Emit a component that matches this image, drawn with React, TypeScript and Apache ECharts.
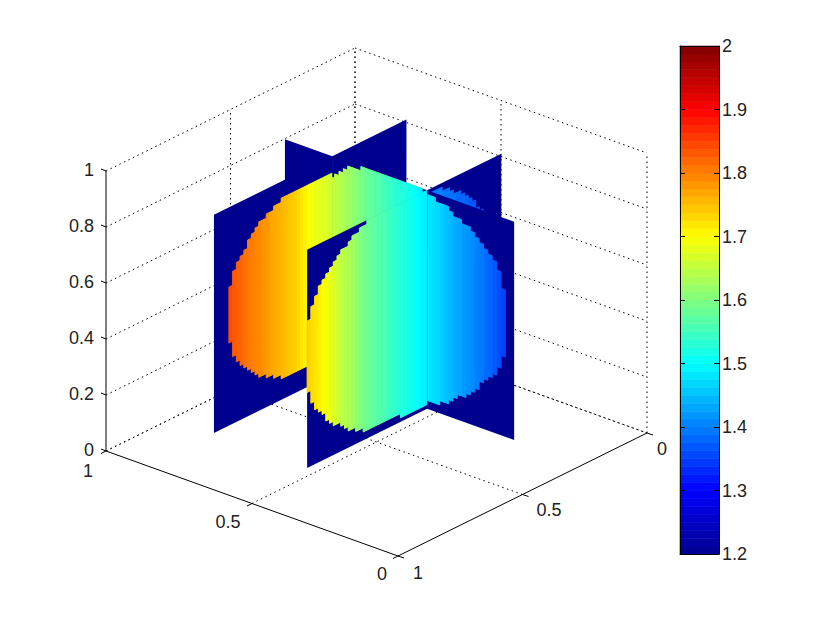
import React, { useEffect, useRef } from "react";
import * as echarts from "echarts";

// ---------- data ----------
const Z_TICKS = ["0", "0.2", "0.4", "0.6", "0.8", "1"];
const FLOOR_TICKS = ["0", "0.5", "1"];
const COLORBAR_MIN = 1.2;
const COLORBAR_MAX = 2;
const COLORBAR_LEVELS = 64;
const BACKGROUND_VALUE = 1.2;

// slice positions and extent of the sampled cube
const SLICE_A_FAR = 0.858;
const SLICE_A_NEAR = 0.533;
const SLICE_B = 0.258;
const DOMAIN_A = [0.235, 1.02];
const DOMAIN_B = [-0.04, 0.74];
const DOMAIN_Z = [0, 0.78];
const CELL = 0.015;

// far A slice, columns from B = 0.733 downward: 0 = outside the ball
const A_FAR_TOP = [0, 0, 0, 0, 0.495, 0.545, 0.57, 0.585, 0.6, 0.63, 0.645, 0.66, 0.675, 0.675, 0.69, 0.69, 0.705, 0.705, 0.72, 0.72, 0.72, 0.72, 0.72, 0.72, 0.72, 0.72, 0.72, 0.72, 0.72, 0.72, 0.72, 0.72];
const A_FAR_LOW = [0, 0, 0, 0, 0.295, 0.24, 0.215, 0.195, 0.18, 0.165, 0.15, 0.135, 0.12, 0.12, 0.105, 0.105, 0.09, 0.09, 0.075, 0.075, 0.075, 0.075, 0.075, 0.075, 0.075, 0.075, 0.075, 0.075, 0.075, 0.075, 0.075, 0.075];
const A_FAR_VAL = [0, 0, 0, 0, 1.84, 1.83, 1.825, 1.82, 1.81, 1.805, 1.8, 1.795, 1.79, 1.785, 1.78, 1.77, 1.765, 1.76, 1.755, 1.75, 1.745, 1.74, 1.73, 1.72, 1.71, 1.7, 1.69, 1.685, 1.68, 1.675, 1.67, 1.66];

// near A slice, left of the B slice, columns from B = 0.74 downward
const A_NEAR_TOP = [0.525, 0.57, 0.6, 0.63, 0.645, 0.66, 0.675, 0.69, 0.705, 0.72, 0.72, 0.735, 0.75, 0.75, 0.765, 0.765, 0.78, 0.78, 0.78, 0.78, 0.78, 0.78, 0.78, 0.78, 0.78, 0.78, 0.78, 0.78, 0.78, 0.78, 0.78, 0.78];
const A_NEAR_LOW = [0.27, 0.225, 0.195, 0.18, 0.165, 0.135, 0.12, 0.105, 0.105, 0.09, 0.075, 0.06, 0.06, 0.045, 0.045, 0.03, 0.03, 0.03, 0.03, 0.03, 0.03, 0.03, 0.03, 0.03, 0.03, 0.015, 0.015, 0.015, 0.015, 0.015, 0.015, 0.015];
const A_NEAR_VAL = [1.735, 1.725, 1.72, 1.71, 1.7, 1.69, 1.68, 1.67, 1.66, 1.65, 1.64, 1.635, 1.625, 1.61, 1.6, 1.59, 1.585, 1.578, 1.57, 1.565, 1.56, 1.55, 1.545, 1.54, 1.533, 1.527, 1.52, 1.515, 1.51, 1.5, 1.495, 1.49];

// near A slice, behind the B slice, columns from B = 0.258 downward
const A_BACK_TOP = [0.765, 0.765, 0.765, 0.765, 0.75, 0.75, 0.735, 0.72, 0.72, 0.705, 0.69, 0.675, 0.66, 0.63, 0.615, 0.585, 0.555, 0.51, 0.45];
const A_BACK_LOW = [0.03, 0.03, 0.03, 0.03, 0.045, 0.045, 0.06, 0.06, 0.075, 0.09, 0.105, 0.12, 0.135, 0.15, 0.18, 0.21, 0.24, 0.27, 0.3];
const A_BACK_VAL = [1.41, 1.41, 1.4, 1.4, 1.4, 1.39, 1.39, 1.39, 1.38, 1.38, 1.38, 1.37, 1.37, 1.36, 1.36, 1.35, 1.35, 1.34, 1.34];

// B slice, columns from A = 0.235 upward
const B_TOP = [0, 0, 0.525, 0.585, 0.615, 0.63, 0.645, 0.66, 0.675, 0.69, 0.705, 0.705, 0.72, 0.72, 0.735, 0.75, 0.75, 0.75, 0.765, 0.765, 0.765, 0.78, 0.78, 0.78, 0.78, 0.78, 0.78, 0.78, 0.78, 0.78, 0.78, 0.78, 0.78, 0.78, 0.78, 0.765, 0.765, 0.765, 0.75, 0.735, 0.72, 0.705];
const B_LOW = [0, 0, 0.285, 0.24, 0.21, 0.195, 0.18, 0.165, 0.135, 0.12, 0.105, 0.09, 0.09, 0.075, 0.06, 0.045, 0.045, 0.03, 0.03, 0.03, 0.03, 0.03, 0.015, 0.015, 0.015, 0.015, 0.015, 0.015, 0.015, 0.015, 0.015, 0.015, 0.015, 0.015, 0.015, 0.03, 0.03, 0.03, 0.03, 0.03, 0.03, 0.03];
const B_VAL = [0, 0, 1.35, 1.36, 1.37, 1.38, 1.385, 1.395, 1.4, 1.41, 1.415, 1.42, 1.43, 1.435, 1.445, 1.45, 1.46, 1.47, 1.475, 1.48, 1.49, 1.495, 1.5, 1.51, 1.515, 1.525, 1.53, 1.535, 1.545, 1.55, 1.56, 1.565, 1.575, 1.58, 1.59, 1.6, 1.61, 1.62, 1.63, 1.64, 1.645, 1.655];

// jet colour map stops: position, r, g, b
const JET_STOPS = [
  [0, 0, 0, 143],
  [0.125, 0, 0, 255],
  [0.375, 0, 255, 255],
  [0.625, 255, 255, 0],
  [0.875, 255, 0, 0],
  [1, 128, 0, 0],
];

// ---------- helpers ----------
function jet(v: number): string {
  const t = Math.min(1, Math.max(0, (v - COLORBAR_MIN) / (COLORBAR_MAX - COLORBAR_MIN)));
  for (let i = 1; i < JET_STOPS.length; i++) {
    const a = JET_STOPS[i - 1];
    const b = JET_STOPS[i];
    if (t <= b[0]) {
      const f = (t - a[0]) / (b[0] - a[0]);
      const c = [1, 2, 3].map((k) => Math.round(a[k] + (b[k] - a[k]) * f));
      return `rgb(${c[0]},${c[1]},${c[2]})`;
    }
  }
  return "rgb(128,0,0)";
}

// oblique view of the box, in the units of the hidden page axes
function project(A: number, B: number, z: number): number[] {
  return [647 - 292 * A - 249 * B, 433 - 105 * A + 123 * B - 280 * z];
}

type Slice = { axis: "A" | "B"; at: number; start: number; step: number; top: number[]; low: number[]; val: number[] };
const sliceFar: Slice = { axis: "A", at: SLICE_A_FAR, start: 0.733, step: -CELL, top: A_FAR_TOP, low: A_FAR_LOW, val: A_FAR_VAL };
const sliceNear: Slice = { axis: "A", at: SLICE_A_NEAR, start: 0.74, step: -CELL, top: A_NEAR_TOP, low: A_NEAR_LOW, val: A_NEAR_VAL };
const sliceBack: Slice = { axis: "A", at: SLICE_A_NEAR, start: SLICE_B, step: -CELL, top: A_BACK_TOP, low: A_BACK_LOW, val: A_BACK_VAL };
const sliceB: Slice = { axis: "B", at: SLICE_B, start: DOMAIN_A[0], step: CELL, top: B_TOP, low: B_LOW, val: B_VAL };

function slicePoint(s: Slice, u: number, z: number) {
  return s.axis === "A" ? project(s.at, u, z) : project(u, s.at, z);
}

type Item =
  | { kind: "poly"; pts: number[][]; fill: string; seal: boolean }
  | { kind: "line"; a: number[]; b: number[]; dotted: boolean }
  | { kind: "text"; at: number[]; text: string; align: string };

const items: Item[] = [];

function cell(s: Slice, u0: number, u1: number, z0: number, z1: number, v: number, seal: boolean) {
  items.push({
    kind: "poly",
    fill: jet(v),
    seal,
    pts: [slicePoint(s, u0, z0), slicePoint(s, u1, z0), slicePoint(s, u1, z1), slicePoint(s, u0, z1)],
  });
}

function segment(s: Slice, lo: number, hi: number) {
  cell(s, lo, hi, DOMAIN_Z[0], DOMAIN_Z[1], BACKGROUND_VALUE, false);
  s.top.forEach((top, i) => {
    const a = s.start + s.step * i;
    const b = a + s.step;
    const u0 = Math.max(lo, Math.min(a, b));
    const u1 = Math.min(hi, Math.max(a, b));
    if (u1 > u0 && top > s.low[i]) cell(s, u0, u1, s.low[i], top, s.val[i], true);
  });
}

function addLine(a: number[], b: number[], dotted: boolean) {
  items.push({ kind: "line", a, b, dotted });
}

// dotted back walls and floor
Z_TICKS.forEach((t) => {
  const z = Number(t);
  addLine(project(1, 1, z), project(1, 0, z), true);
  addLine(project(1, 0, z), project(0, 0, z), true);
});
FLOOR_TICKS.forEach((t) => {
  const v = Number(t);
  if (v > 0) addLine(project(v, 1, 0), project(v, 0, 0), true);
  if (v < 1) addLine(project(0, v, 0), project(1, v, 0), true);
  if (v > 0) addLine(project(v, 0, 0), project(v, 0, 1), true);
  if (v < 1) addLine(project(1, v, 0), project(1, v, 1), true);
});
addLine(project(0, 0, 0), project(0, 0, 1), true);

// solid axes and tick marks
addLine(project(1, 1, 0), project(1, 1, 1), false);
addLine(project(1, 1, 0), project(0, 1, 0), false);
addLine(project(0, 1, 0), project(0, 0, 0), false);
Z_TICKS.forEach((t) => {
  const p = project(1, 1, Number(t));
  addLine(p, [p[0] - 5, p[1] - 2], false);
  items.push({ kind: "text", at: [94, p[1] - 1], text: t, align: "right" });
});
FLOOR_TICKS.forEach((t) => {
  const v = Number(t);
  const pa = project(v, 1, 0);
  addLine(pa, [pa[0] - 5, pa[1] + 2.5], false);
  const pb = project(0, v, 0);
  addLine(pb, [pb[0] + 6, pb[1] + 2], false);
});
[
  [1, -18, 20],
  [0.5, -24, 18.5],
  [0, -16, 18],
].forEach(([v, dx, dy]) => {
  const p = project(v, 1, 0);
  items.push({ kind: "text", at: [p[0] + dx, p[1] + dy], text: String(v), align: "center" });
});
[
  [1, 20, 17],
  [0.5, 26.5, 15.5],
  [0, 15, 16],
].forEach(([v, dx, dy]) => {
  const p = project(0, v, 0);
  items.push({ kind: "text", at: [p[0] + dx, p[1] + dy], text: String(v), align: "center" });
});

// slices, from back to front
segment(sliceB, SLICE_A_FAR, DOMAIN_A[1]);
segment(sliceFar, DOMAIN_B[0], SLICE_B);
segment(sliceBack, DOMAIN_B[0], SLICE_B);
segment(sliceFar, SLICE_B, 0.733);
segment(sliceB, SLICE_A_NEAR, SLICE_A_FAR);
segment(sliceB, DOMAIN_A[0], SLICE_A_NEAR);
segment(sliceNear, SLICE_B, DOMAIN_B[1]);

const bandData = Array.from({ length: COLORBAR_LEVELS }, (_, i) => {
  const w = (COLORBAR_MAX - COLORBAR_MIN) / COLORBAR_LEVELS;
  return [COLORBAR_MIN + i * w, COLORBAR_MIN + (i + 1) * w];
});

const FONT = '18px "Liberation Sans", Arial, sans-serif';

export default function App() {
  const ref = useRef<HTMLDivElement>(null);
  useEffect(() => {
    const chart = echarts.init(ref.current!, null, { renderer: "svg" });
    chart.setOption({
      animation: false,
      backgroundColor: "#ffffff",
      grid: [
        { left: 0, top: 0, width: 830, height: 623 },
        { left: 680, top: 46, width: 39, height: 508 },
      ],
      xAxis: [
        { type: "value", gridIndex: 0, min: 0, max: 830, show: false },
        { type: "value", gridIndex: 1, min: 0, max: 1, position: "bottom", z: 5, axisLine: { show: true, onZero: false, lineStyle: { color: "#000" } }, axisTick: { show: false }, axisLabel: { show: false }, splitLine: { show: false } },
        { type: "value", gridIndex: 1, min: 0, max: 1, position: "top", z: 5, axisLine: { show: true, onZero: false, lineStyle: { color: "#000" } }, axisTick: { show: false }, axisLabel: { show: false }, splitLine: { show: false } },
      ],
      yAxis: [
        { type: "value", gridIndex: 0, min: 0, max: 623, inverse: true, show: false },
        {
          type: "value", gridIndex: 1, min: COLORBAR_MIN, max: COLORBAR_MAX, interval: 0.1, position: "right", z: 5,
          axisLine: { show: true, onZero: false, lineStyle: { color: "#000" } },
          axisTick: { show: true, inside: true, length: 5, lineStyle: { color: "#000" } },
          axisLabel: { show: true, margin: 3, padding: [4, 0, 0, 0], color: "#222", fontFamily: '"Liberation Sans", Arial, sans-serif', fontSize: 18, formatter: (v: number) => String(Number(v.toFixed(1))) },
          splitLine: { show: false },
        },
        {
          type: "value", gridIndex: 1, min: COLORBAR_MIN, max: COLORBAR_MAX, interval: 0.1, position: "left", z: 5,
          axisLine: { show: true, onZero: false, lineStyle: { color: "#000" } },
          axisTick: { show: true, inside: true, length: 5, lineStyle: { color: "#000" } },
          axisLabel: { show: false },
          splitLine: { show: false },
        },
      ],
      series: [
        {
          type: "custom",
          xAxisIndex: 0,
          yAxisIndex: 0,
          silent: true,
          data: items.map((_, i) => [i]),
          encode: { x: -1, y: -1 },
          renderItem: (params: any, api: any) => {
            const it = items[params.dataIndex];
            if (it.kind === "poly") {
              return {
                type: "polygon",
                shape: { points: it.pts.map((p) => api.coord(p)) },
                style: it.seal ? { fill: it.fill, stroke: it.fill, lineWidth: 1 } : { fill: it.fill },
              };
            }
            if (it.kind === "line") {
              const a = api.coord(it.a);
              const b = api.coord(it.b);
              return {
                type: "line",
                shape: { x1: a[0], y1: a[1], x2: b[0], y2: b[1] },
                style: it.dotted
                  ? { stroke: "#000", lineWidth: 1, lineDash: [1.5, 3.5], fill: null }
                  : { stroke: "#000", lineWidth: 1, fill: null },
              };
            }
            const p = api.coord(it.at);
            return {
              type: "text",
              style: { text: it.text, x: p[0], y: p[1], fill: "#222", font: FONT, align: it.align, verticalAlign: "middle" },
            };
          },
        },
        {
          type: "custom",
          xAxisIndex: 1,
          yAxisIndex: 1,
          silent: true,
          data: bandData,
          encode: { y: [0, 1] },
          renderItem: (_: any, api: any) => {
            const lo = api.coord([0, api.value(0)]);
            const hi = api.coord([1, api.value(1)]);
            const v = (api.value(0) + api.value(1)) / 2;
            const fill = jet(v);
            return {
              type: "rect",
              shape: { x: lo[0], y: hi[1], width: hi[0] - lo[0], height: lo[1] - hi[1] },
              style: { fill, stroke: fill, lineWidth: 0.6 },
            };
          },
        },
      ],
    });
    return () => chart.dispose();
  }, []);
  return <div ref={ref} style={{ position: "absolute", left: 0, top: 0, width: 830, height: 623 }} />;
}
